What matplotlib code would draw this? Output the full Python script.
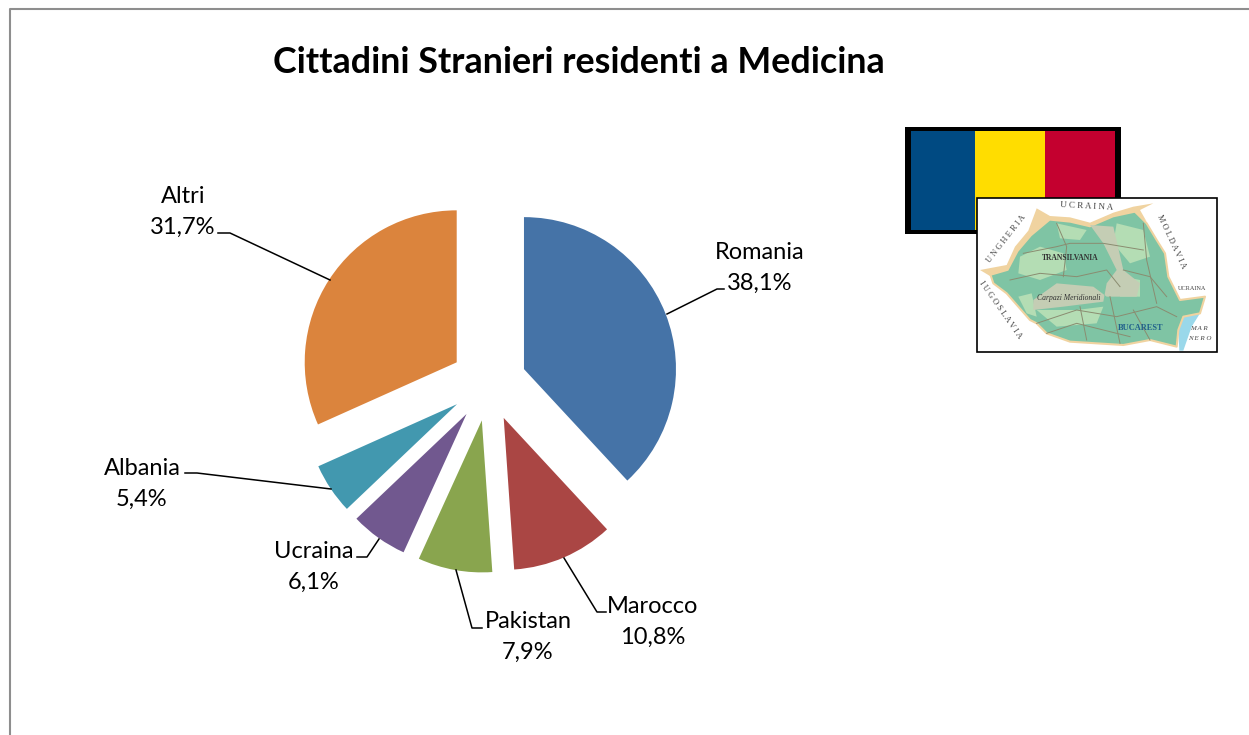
import matplotlib
matplotlib.use('Agg')
import matplotlib.pyplot as plt
from matplotlib.patches import Rectangle, Polygon

W, H = 1249, 735

names = ['Romania', 'Marocco', 'Pakistan', 'Ucraina', 'Albania', 'Altri']
values = [38.1, 10.8, 7.9, 6.1, 5.4, 31.7]
colors = ['#4573A7', '#AA4644', '#89A54E', '#71588F', '#4298AF', '#DB843D']

# label centres, in image pixels
label_pos = [(760, 268), (653, 622), (528, 637), (314, 567), (142, 484), (183, 212)]
# leader lines, in image pixels
leaders = [
    [(667, 314), (717, 289), (724, 289)],
    [(564, 558), (597, 612), (606, 612)],
    [(456, 570), (472, 628), (482, 628)],
    [(379, 539), (367, 557), (357, 557)],
    [(331, 489), (197, 473), (185, 473)],
    [(330, 280), (230, 233), (218, 233)],
]

outline = [(300, 490), (350, 475), (380, 420), (420, 370), (480, 325), (540, 330), (600, 345),
           (670, 315), (730, 300), (770, 340), (800, 390), (825, 430), (835, 500), (870, 570),
           (945, 560), (930, 610), (880, 620), (865, 660), (860, 710), (780, 690), (700, 705),
           (620, 700), (540, 695), (470, 670), (440, 640), (420, 630), (385, 590), (350, 550),
           (310, 520)]
coast = [(880, 620), (930, 610), (905, 650), (880, 722), (868, 722), (865, 660)]
border_tan = [(270, 480), (350, 465), (375, 410), (415, 362), (440, 295), (480, 318), (540, 322),
              (600, 338), (670, 308), (730, 290), (790, 280), (750, 300), (770, 335), (735, 308),
              (670, 322), (600, 352), (540, 338), (480, 332), (425, 378), (385, 425), (355, 482),
              (300, 498)]
light_patches = [
    [(390, 440), (450, 410), (520, 430), (530, 480), (450, 510), (385, 490)],
    [(500, 340), (590, 360), (570, 390), (510, 385)],
    [(680, 340), (760, 360), (780, 440), (720, 460), (670, 400)],
    [(440, 600), (560, 600), (640, 590), (620, 640), (500, 650)],
    [(700, 500), (750, 510), (750, 560), (690, 560)],
    [(385, 560), (425, 550), (440, 620), (410, 610)],
]
mountains = [(600, 345), (670, 350), (700, 480), (750, 520), (740, 560), (650, 560), (610, 530),
             (500, 520), (430, 570), (430, 600), (520, 590), (640, 575), (650, 520), (680, 480),
             (640, 400)]
rivers = [
    [(360, 510), (450, 490), (560, 500), (650, 480), (690, 530)],
    [(400, 430), (500, 410), (540, 400), (640, 400), (760, 420)],
    [(440, 640), (560, 600), (680, 620), (800, 590), (860, 620)],
    [(570, 590), (590, 690)],
    [(660, 560), (690, 700)],
    [(760, 340), (770, 450), (800, 580)],
    [(500, 340), (530, 410), (520, 500)],
    [(470, 670), (560, 640), (720, 680)],
    [(700, 480), (780, 500), (830, 560)],
    [(730, 600), (780, 690)],
]
map_labels = [
    ('TRANSILVANIA', 540, 445, 5.5, 0, 'bold', '#333333'),
    ('Carpazi Meridionali', 535, 565, 5.5, 0, 'italic', '#333333'),
    ('BUCAREST', 752, 655, 6, 0, 'bold', '#1F5F8B'),
    ('U C R A I N A', 590, 290, 6.5, -3, 'normal', '#444444'),
    ('U N G H E R I A', 350, 385, 6, 52, 'normal', '#444444'),
    ('M O L D A V I A', 845, 395, 6, -65, 'normal', '#444444'),
    ('I U G O S L A V I A', 330, 600, 6, -55, 'normal', '#444444'),
    ('UCRAINA', 905, 535, 4.5, 0, 'normal', '#444444'),
    ('M A R', 928, 655, 5, 0, 'italic', '#444444'),
    ('N E R O', 928, 685, 5, 0, 'italic', '#444444'),
]


def yy(y):
    return H - y


def crop(p):
    # crop coordinates to plot coordinates
    return (890 + p[0] / 3, yy(110 + p[1] / 3))


plt.rcParams['font.family'] = ['Lato', 'DejaVu Sans']
fig = plt.figure(figsize=(W / 100, H / 100), dpi=100)
ax = fig.add_axes([0, 0, 1, 1])

ax.pie(values, colors=colors, startangle=90, counterclock=False, center=(488.6, yy(383)),
       radius=152, explode=[38] * len(values), wedgeprops={'linewidth': 0})
ax.set_xlim(0, W)
ax.set_ylim(0, H)
ax.set_aspect('equal')
ax.axis('off')

# chart frame, cut by the edge of the image
ax.plot([10, 10, W], [0, yy(9), yy(9)], color='#8E8E8E', lw=1.5)

ax.text(579, yy(62), 'Cittadini Stranieri residenti a Medicina', fontsize=25.8, fontweight='bold',
        ha='center', va='center', color='black')

for name, val, pos, line in zip(names, values, label_pos, leaders):
    ax.plot([p[0] for p in line], [yy(p[1]) for p in line], color='black', lw=1.1, zorder=3)
    txt = '%s\n%s%%' % (name, ('%.1f' % val).replace('.', ','))
    ax.text(pos[0], yy(pos[1]), txt, fontsize=17, ha='center', va='center', linespacing=1.53)

# flag
ax.add_patch(Rectangle((905, yy(234)), 216, 107, fc='black', ec='none', zorder=4))
ax.add_patch(Rectangle((911, yy(230)), 64, 99, fc='#004A82', ec='none', zorder=5))
ax.add_patch(Rectangle((975, yy(230)), 70, 99, fc='#FFDD00', ec='none', zorder=5))
ax.add_patch(Rectangle((1045, yy(230)), 70, 99, fc='#C4002F', ec='none', zorder=5))

# map
ax.add_patch(Rectangle((977, yy(352)), 240, 154, fc='white', ec='black', lw=1.2, zorder=6))
ax.add_patch(Polygon([crop(p) for p in coast], closed=True, fc='#9AD8EA', ec='none', zorder=7))
ax.add_patch(Polygon([crop(p) for p in outline], closed=True, fc='#7FC4A4', ec='#F0D3A0',
                     lw=1.5, joinstyle='round', zorder=7))
ax.add_patch(Polygon([crop(p) for p in border_tan], closed=True, fc='#F0D3A0', ec='none', zorder=7))
for patch in light_patches:
    ax.add_patch(Polygon([crop(p) for p in patch], closed=True, fc='#B4DDB4', ec='none', zorder=8))
ax.add_patch(Polygon([crop(p) for p in mountains], closed=True, fc='#C4CDB4', ec='none', zorder=8))
for r in rivers:
    pts = [crop(p) for p in r]
    ax.plot([p[0] for p in pts], [p[1] for p in pts], color='#8A8C70', lw=0.7, zorder=9)
for txt, x, y, size, rot, style, col in map_labels:
    px, py = crop((x, y))
    ax.text(px, py, txt, fontsize=size, rotation=rot, color=col, ha='center', va='center', zorder=10,
            family='Liberation Serif', fontweight='bold' if style == 'bold' else 'normal',
            fontstyle='italic' if style == 'italic' else 'normal')

fig.savefig('out.png', dpi=100, facecolor='white')
